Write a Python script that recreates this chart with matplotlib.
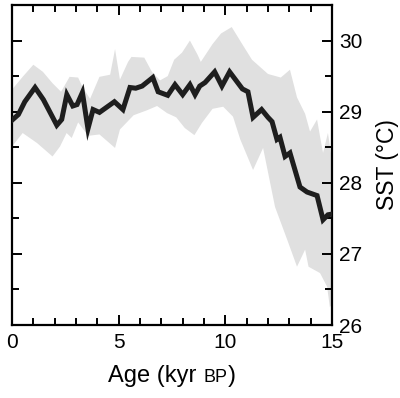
import matplotlib
matplotlib.use("Agg")
import matplotlib.pyplot as plt
from matplotlib.ticker import MultipleLocator
from matplotlib.offsetbox import TextArea, HPacker, AnnotationBbox

plt.rcParams['font.family'] = ['Liberation Sans', 'DejaVu Sans']

# SST stack, values
line_age = [0.0, 0.3, 0.6, 1.08, 1.47, 2.1, 2.33, 2.57, 2.85, 3.05,
            3.3, 3.56, 3.8, 4.1, 4.8, 5.2, 5.53, 5.8, 6.1, 6.6,
            6.85, 7.3, 7.64, 8.0, 8.34, 8.58, 8.8, 9.05, 9.5, 9.84,
            10.2, 10.8, 11.06, 11.3, 11.7, 12.0, 12.19, 12.42, 12.56, 12.8,
            13.03, 13.5, 13.83, 14.3, 14.58, 14.81, 15.0]
line_sst = [28.88, 28.96, 29.14, 29.34, 29.17, 28.81, 28.89, 29.24, 29.08, 29.1,
            29.27, 28.76, 29.03, 28.99, 29.14, 29.03, 29.34, 29.33, 29.36, 29.48,
            29.28, 29.23, 29.38, 29.24, 29.38, 29.24, 29.36, 29.41, 29.56, 29.36,
            29.56, 29.32, 29.28, 28.92, 29.03, 28.92, 28.86, 28.61, 28.64, 28.37,
            28.42, 27.94, 27.87, 27.82, 27.48, 27.55, 27.56]

# upper / lower edge of the uncertainty envelope
hi_age = [0.0, 0.5, 1.0, 1.45, 1.9, 2.3, 2.7, 3.1, 3.3, 3.66,
          4.1, 4.6, 4.83, 5.06, 5.44, 5.6, 6.2, 6.56, 6.94, 7.3,
          7.6, 7.97, 8.34, 8.7, 8.85, 9.4, 9.8, 10.3, 10.75, 11.25,
          12.0, 12.6, 13.03, 13.36, 13.74, 13.97, 14.3, 14.44, 14.58, 14.81,
          15.0]
hi_sst = [29.31, 29.49, 29.66, 29.56, 29.4, 29.28, 29.49, 29.48, 29.35, 29.18,
          29.49, 29.52, 29.88, 29.45, 29.7, 29.77, 29.76, 29.56, 29.44, 29.5,
          29.73, 29.83, 30.0, 29.8, 29.7, 29.95, 30.1, 30.19, 29.97, 29.73,
          29.53, 29.48, 29.59, 29.2, 28.97, 28.72, 28.89, 28.65, 28.42, 28.7,
          28.32]
lo_age = [0.0, 0.5, 1.17, 1.9, 2.25, 2.56, 2.8, 3.1, 3.57, 4.1,
          4.83, 5.06, 5.7, 6.33, 6.8, 7.27, 7.7, 8.1, 8.55, 8.9,
          9.4, 9.9, 10.36, 10.7, 11.3, 11.77, 12.33, 12.9, 13.36, 13.74,
          13.9, 14.44, 14.77, 14.9, 15.0]
lo_sst = [28.51, 28.7, 28.56, 28.37, 28.51, 28.7, 28.63, 28.85, 28.66, 28.68,
          28.49, 28.75, 28.95, 29.02, 29.08, 28.98, 28.92, 28.77, 28.67, 28.84,
          29.04, 29.07, 28.93, 28.61, 28.18, 28.49, 27.66, 27.2, 26.82, 27.06,
          26.82, 26.73, 26.54, 26.25, 26.3]

fig = plt.figure(figsize=(4.0, 3.98), dpi=100)
ax = fig.add_axes([0.03, 0.1834, 0.80, 0.804])

# envelope as a closed polygon (upper edge forward, lower edge back)
ax.fill(hi_age + lo_age[::-1], hi_sst + lo_sst[::-1],
        color='#e0e0e0', lw=0, zorder=1)
ax.plot(line_age, line_sst, color='#1e1e1e', lw=3.6,
        solid_joinstyle='miter', zorder=3)

ax.set_xlim(0, 15)
ax.set_ylim(26, 30.5)
ax.xaxis.set_major_locator(MultipleLocator(5))
ax.xaxis.set_minor_locator(MultipleLocator(1))
ax.yaxis.set_major_locator(MultipleLocator(1))
ax.yaxis.set_minor_locator(MultipleLocator(0.5))
ax.yaxis.tick_right()

for s in ax.spines.values():
    s.set_linewidth(1.6)
ax.tick_params(which='both', direction='in', top=True, bottom=True,
               left=True, right=True, width=1.4)
ax.tick_params(which='major', length=7)
ax.tick_params(which='minor', length=5)
ax.tick_params(axis='x', labelsize=15, pad=6)
ax.tick_params(axis='y', labelsize=15, pad=5, labelleft=False, labelright=True)

ax.yaxis.set_label_position('right')
ax.set_ylabel('SST (°C)', fontsize=16.5, labelpad=10)

# x label with small-caps "BP"
parts = [TextArea('Age (kyr ', textprops=dict(fontsize=17)),
         TextArea('BP', textprops=dict(fontsize=13)),
         TextArea(')', textprops=dict(fontsize=17))]
box = HPacker(children=parts, align='baseline', pad=0, sep=0)
ab = AnnotationBbox(box, (0.5, -0.16), xycoords='axes fraction',
                    frameon=False, box_alignment=(0.5, 0.5))
ax.add_artist(ab)

fig.savefig('out.png', dpi=100)
